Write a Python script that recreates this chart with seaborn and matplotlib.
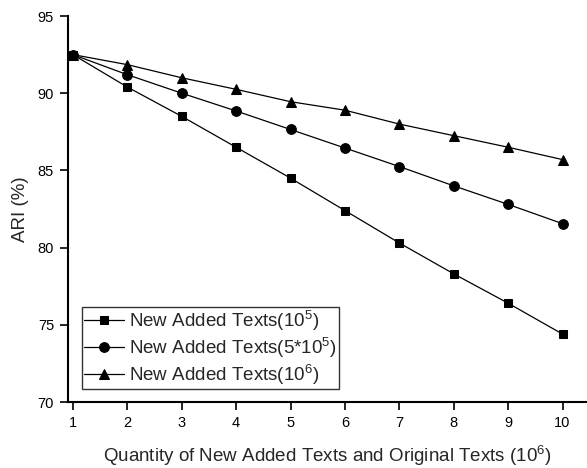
import matplotlib
matplotlib.use("Agg")
import matplotlib.pyplot as plt
import seaborn as sns
import pandas as pd

quantity = [1, 2, 3, 4, 5, 6, 7, 8, 9, 10]
ari_1e5 = [92.5, 90.4, 88.5, 86.5, 84.5, 82.4, 80.3, 78.3, 76.4, 74.4]
ari_5e5 = [92.5, 91.2, 90.0, 88.85, 87.65, 86.45, 85.25, 84.0, 82.8, 81.55]
ari_1e6 = [92.5, 91.85, 91.0, 90.25, 89.45, 88.9, 88.0, 87.25, 86.5, 85.7]
series_labels = [r"New Added Texts(10$^{5}$)",
                 r"New Added Texts(5*10$^{5}$)",
                 r"New Added Texts(10$^{6}$)"]
x_ticks = [1, 2, 3, 4, 5, 6, 7, 8, 9, 10]
y_ticks = [70, 75, 80, 85, 90, 95]

sns.set_theme(style="ticks")
plt.rcParams["font.family"] = ["Liberation Sans", "DejaVu Sans"]
plt.rcParams["mathtext.fontset"] = "custom"
plt.rcParams["mathtext.rm"] = "Liberation Sans"
plt.rcParams["mathtext.it"] = "Liberation Sans"

fig = plt.figure(figsize=(5.87, 4.68), dpi=100)
ax = fig.add_axes([68 / 587, 1 - 402 / 468, 1 - 68 / 587, (402 - 16) / 468])

markers = ["s", "o", "^"]
sizes = [6.2, 7.0, 7.5]
for vals, lab, mk, ms in zip([ari_1e5, ari_5e5, ari_1e6], series_labels, markers, sizes):
    df = pd.DataFrame({"x": quantity, "y": vals})
    sns.lineplot(data=df, x="x", y="y", ax=ax, color="black", linewidth=0.9,
                 marker=mk, markersize=ms,
                 markeredgecolor="black", markerfacecolor="black", label=lab)

ax.set_xlim(0.91, 10.45)
ax.set_ylim(70, 95)
ax.set_xticks(x_ticks)
ax.set_yticks(y_ticks)
ax.tick_params(axis="both", direction="out", length=6, width=1.2,
               labelsize=10.5, color="black", labelcolor="black", pad=4)
for s in ["top", "right"]:
    ax.spines[s].set_visible(False)
for s in ["left", "bottom"]:
    ax.spines[s].set_linewidth(1.5)
    ax.spines[s].set_color("black")

ax.set_xlabel(r"Quantity of New Added Texts and Original Texts (10$^{6}$)",
              fontsize=13.5, labelpad=10)
ax.set_ylabel("ARI (%)", fontsize=13.5, labelpad=6)

leg = ax.legend(loc="lower left", bbox_to_anchor=(82 / 587, 79 / 468),
                bbox_transform=fig.transFigure, borderaxespad=0,
                fontsize=13.5, fancybox=False, edgecolor="#333333",
                framealpha=1, handlelength=2.1, handletextpad=0.3,
                labelspacing=0.15, borderpad=0.12)
leg.get_frame().set_linewidth(1.0)

fig.savefig("out.png", dpi=100)
